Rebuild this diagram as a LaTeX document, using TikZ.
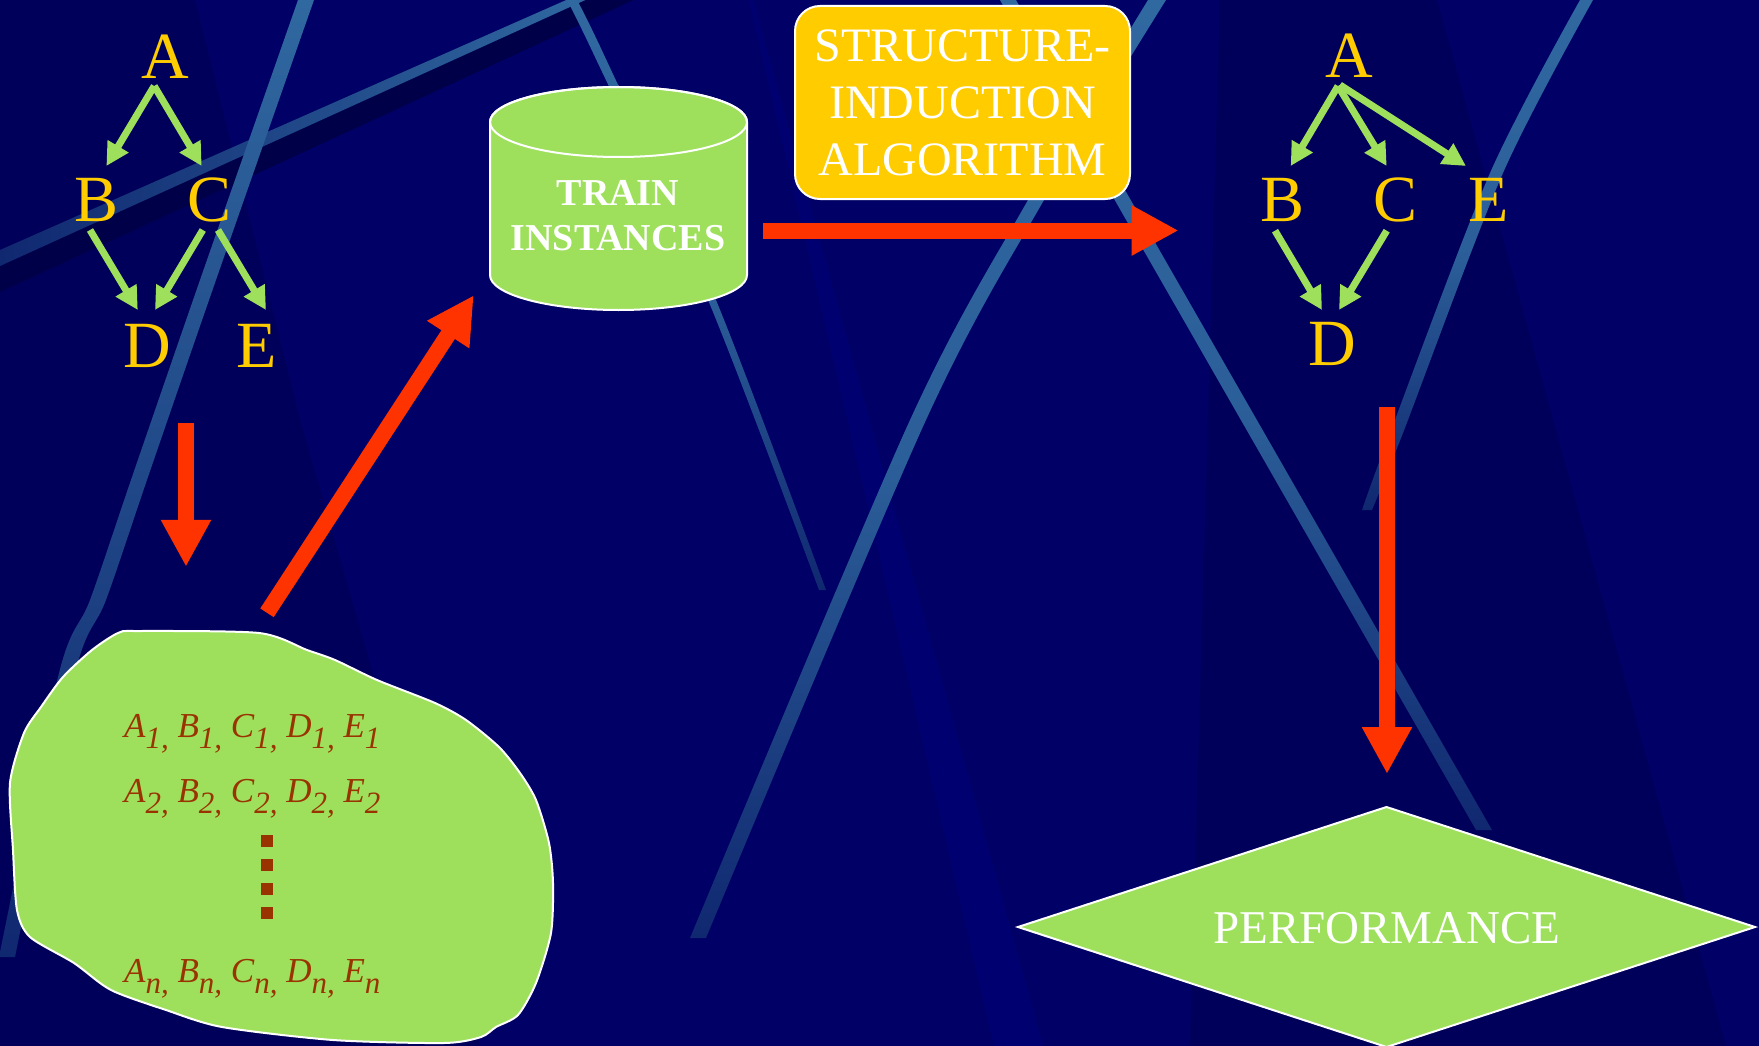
\documentclass[tikz,border=0pt]{standalone}
\usepackage{fontspec}
\setmainfont{Liberation Serif}
\usetikzlibrary{arrows.meta,calc}
\definecolor{bgnavy}{RGB}{0,0,102}
\definecolor{bgdark}{RGB}{0,0,90}
\definecolor{bgshadow}{RGB}{0,0,72}
\definecolor{bglight}{RGB}{0,0,112}
\definecolor{streak}{RGB}{48,104,160}
\definecolor{streakdim}{RGB}{16,40,112}
\definecolor{leafgreen}{RGB}{158,224,92}
\definecolor{gold}{RGB}{255,204,0}
\definecolor{redarrow}{RGB}{255,51,0}
\definecolor{brownish}{RGB}{153,51,0}
\newcommand{\lowsub}[1]{\raisebox{-11pt}{\fontsize{31}{31}\selectfont #1}}
\begin{document}
\begin{tikzpicture}[x=1pt,y=-1pt,
  letter/.style={text=gold, inner sep=0pt, anchor=base, font=\fontsize{66}{70}\selectfont},
  garrow/.style={color=leafgreen, line width=7pt, -{Triangle[length=23pt,width=23pt]}},
  rarrow/.style={color=redarrow, line width=16pt, -{Triangle[length=47pt,width=47pt]}},
  shapeline/.style={fill=leafgreen, draw=white, line width=2pt},
  datarow/.style={anchor=base west, inner sep=0pt, text=brownish, font=\itshape\fontsize{35}{40}\selectfont},
  algobox/.style={fill=gold, draw=white, line width=2pt, rounded corners=25pt,
     minimum width=335pt, minimum height=193pt, inner sep=0pt, align=center,
     text=white, font=\fontsize{48}{57}\selectfont},
  streakfade/.style={top color=streak, bottom color=streakdim, middle color=streak!85!streakdim}
]
% background
\fill[bgnavy] (0,0) rectangle (1759,1046);
\useasboundingbox (0,0) rectangle (1759,1046);
\fill[bgdark] (0,0) -- (195,0) -- (300,420) -- (480,1046) -- (0,1046) -- cycle;
\fill[bgdark] (1220,0) -- (1437,0) -- (1726,1046) -- (1190,1046) -- cycle;
\fill[bglight] (749,0) -- (753,0) -- (1043,1046) -- (994,1046) -- cycle;
% streaks
\fill[bgshadow] (0,266) -- (592,-3) -- (640,-3) -- (0,292) -- cycle;
\shade[left color=streakdim, right color=streak] (0,250) -- (573,-3) -- (592,-3) -- (0,266) -- cycle;
\shade[top color=streak, middle color=streak, bottom color=streakdim]
  plot[smooth] coordinates {(298,0) (200,280) (132,477) (90,600) (59,673) (-1,957)}
  -- plot[smooth] coordinates {(15,957) (75,673) (106,600) (148,477) (216,280) (314,0)} -- cycle;
\shade[streakfade]
  plot[smooth] coordinates {(567,0) (595,57) (708,300) (819,590)}
  -- plot[smooth] coordinates {(826,590) (716,300) (605,57) (577,0)} -- cycle;
\shade[streakfade]
  plot[smooth] coordinates {(1148,0) (1028,200) (910,420) (690,938)}
  -- plot[smooth] coordinates {(706,938) (926,420) (1044,200) (1166,0)} -- cycle;
\shade[streakfade] (1000,0) -- (1016,0) -- (1492,830) -- (1476,830) -- cycle;
\shade[streakfade]
  plot[smooth] coordinates {(1580,0) (1490,173) (1390,433) (1362,510)}
  -- plot[smooth] coordinates {(1372,510) (1403,433) (1503,173) (1593,0)} -- cycle;

% left tree
\node[letter] (lA) at (165.5,78.3) {A};
\node[letter] (lB) at (97,221.7) {B};
\node[letter] (lC) at (210,221.7) {C};
\node[letter] (lD) at (147,367) {D};
\node[letter] (lE) at (257,367) {E};
\draw[garrow] ($(lA.base)+(-11.3,7.7)$) -- ($(lB.base)+(9.4,-55.7)$);
\draw[garrow] ($(lA.base)+(-11.3,7.7)$) -- ($(lC.base)+(-8.3,-55.7)$);
\draw[garrow] ($(lB.base)+(-7,8.3)$) -- ($(lD.base)+(-9.2,-57)$);
\draw[garrow] ($(lC.base)+(-7.2,8.3)$) -- ($(lD.base)+(8,-57)$);
\draw[garrow] ($(lC.base)+(8,8.3)$) -- ($(lE.base)+(9,-57)$);

% right tree
\node[letter] (rA) at (1349,78) {A};
\node[letter] (rB) at (1282,221.7) {B};
\node[letter] (rC) at (1395,221.7) {C};
\node[letter] (rE) at (1489,221.7) {E};
\node[letter] (rD) at (1332.5,365.7) {D};
\draw[garrow] ($(rA.base)+(-11,8)$) -- ($(rB.base)+(8.7,-55.7)$);
\draw[garrow] ($(rA.base)+(-11,8)$) -- ($(rC.base)+(-8.3,-55.7)$);
\draw[garrow] ($(rA.base)+(-9,7)$) -- ($(rE.base)+(-23,-55.7)$);
\draw[garrow] ($(rB.base)+(-7,9)$) -- ($(rD.base)+(-10.5,-55.7)$);
\draw[garrow] ($(rC.base)+(-8.3,9)$) -- ($(rD.base)+(6.5,-55.7)$);

% cylinder
\filldraw[shapeline] (490,122) -- (490,275) arc[start angle=180, end angle=0, x radius=128.5, y radius=35]
  -- (747,122) arc[start angle=0, end angle=-180, x radius=128.5, y radius=35] -- cycle;
\draw[white, line width=2pt] (618.5,122) ellipse [x radius=128.5, y radius=35];
\node[inner sep=0pt, minimum width=257pt, minimum height=223pt] (train) at (618.5,198.5) {};
\node[inner sep=0pt, align=center, text=white, font=\bfseries\fontsize{38}{45}\selectfont] (trainlbl) at (618,216) {TRAIN\\INSTANCES};

% algorithm box
\node[algobox] (algo) at (962.5,102.5) {STRUCTURE-\\INDUCTION\\ALGORITHM};

% blob
\node[inner sep=0pt, minimum width=543pt, minimum height=415pt] (blob) at (281.5,838) {};
\filldraw[shapeline] plot[smooth cycle, tension=0.45] coordinates {
  (137,631) (259,633) (307,650) (335,660) (377,680) (435,703) (466,720) (499,747)
  (520,773) (536,800) (549,843) (553,883) (551,933) (536,983) (518,1015) (496,1027)
  (481,1037) (444,1043) (333,1040) (222,1027) (166,1010) (111,990) (74,963) (30,937)
  (17,910) (13,850) (10,783) (24,733) (41,707) (63,677) (92,650) (118,633)};
\node[datarow] (d1) at (124,737) {A\lowsub{1,} B\lowsub{1,} C\lowsub{1,} D\lowsub{1,} E\lowsub{1}};
\node[datarow] (d2) at (124,802) {A\lowsub{2,} B\lowsub{2,} C\lowsub{2,} D\lowsub{2,} E\lowsub{2}};
\node[datarow] (dn) at (124,982) {A\lowsub{n,} B\lowsub{n,} C\lowsub{n,} D\lowsub{n,} E\lowsub{n}};
\fill[brownish] (261,835) rectangle (273,847);
\fill[brownish] (261,859) rectangle (273,871);
\fill[brownish] (261,883) rectangle (273,895);
\fill[brownish] (261,907) rectangle (273,918.5);

% performance diamond
\coordinate (pc) at (1386.5,927);
\filldraw[shapeline] ($(pc)+(0,-120)$) -- ($(pc)+(368.5,0)$) -- ($(pc)+(0,120)$) -- ($(pc)+(-368.5,0)$) -- cycle;
\node[inner sep=0pt, text=white, font=\fontsize{47}{50}\selectfont] (perf) at ($(pc)+(0.5,1.5)$) {PERFORMANCE};

% red arrows
\draw[rarrow] ($(lD.base)+(39,56)$) -- ($(blob.north)+(-95.5,-63.5)$);
\draw[rarrow] ($(blob.north)+(-14.5,-17.5)$) -- ($(train.south west)+(-16,-15)$);
\draw[rarrow] ($(train.east)+(16,32)$) -- ($(rB.base)+(-103.4,8.8)$);
\draw[rarrow] ($(rD.base)+(54.5,41.3)$) -- ($(pc)+(0.5,-153)$);
\end{tikzpicture}
\end{document}
